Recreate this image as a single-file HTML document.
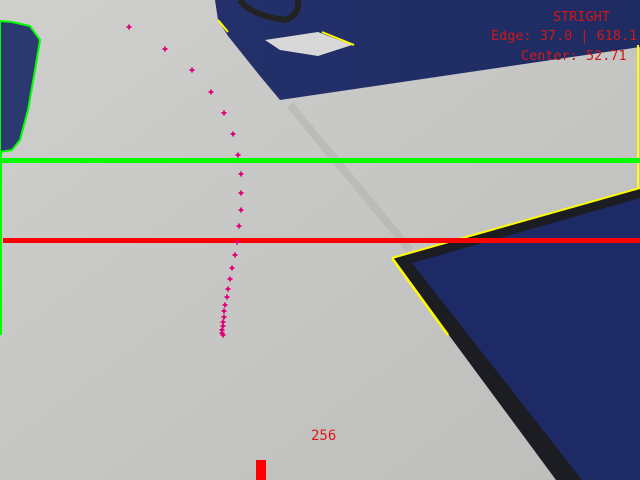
<!DOCTYPE html>
<html><head><meta charset="utf-8"><style>
html,body{margin:0;padding:0;width:640px;height:480px;overflow:hidden;background:#c4c4c2}
svg{display:block}
text{font-family:"DejaVu Sans Mono","Liberation Mono",monospace}
</style></head><body>
<svg width="640" height="480" viewBox="0 0 640 480">
<defs>
<linearGradient id="fl" x1="0" y1="0" x2="1" y2="1">
<stop offset="0" stop-color="#cfcfcd"/><stop offset="0.5" stop-color="#c6c6c4"/><stop offset="1" stop-color="#bdbdbb"/>
</linearGradient>
<linearGradient id="bm" x1="0" y1="0" x2="1" y2="0">
<stop offset="0" stop-color="#23306a"/><stop offset="1" stop-color="#1f2c62"/>
</linearGradient>
</defs>
<rect width="640" height="480" fill="url(#fl)"/>
<line x1="290" y1="105" x2="410" y2="250" stroke="#b4b4b2" stroke-width="8" opacity="0.6"/>
<polygon points="215,0 640,0 640,47 280,100 260,76 228,36 218,20" fill="url(#bm)"/>
<polygon points="265,40 318,32 352,45 318,56 280,50" fill="#d8d8d8"/>
<path d="M240,0 Q250,15 285,20 Q300,15 298,0" stroke="#222" stroke-width="6" fill="none"/>
<polyline points="218,20 228,32" stroke="#ffff00" stroke-width="2" fill="none"/>
<polyline points="322,32 354,45" stroke="#ffff00" stroke-width="2" fill="none"/>
<polygon points="392,258 640,188 640,480 556,480" fill="#1b1d22"/>
<polygon points="412,263 640,198 640,480 582,480" fill="#1d2a66"/>
<polyline points="392,258 640,188 638,188 638,45" stroke="#ffff00" stroke-width="2" fill="none"/>
<polyline points="392,258 448,335" stroke="#ffff00" stroke-width="2.5" fill="none"/>
<polygon points="0,21 12,22 30,26 40,40 35,70 28,110 20,140 12,150 0,152" fill="#2a3a70" stroke="#00ff00" stroke-width="2"/>
<rect x="0" y="158" width="640" height="5" fill="#00ff00"/>
<rect x="0" y="152" width="2" height="183" fill="#00ff00"/>
<rect x="3" y="238" width="637" height="5" fill="#ff0000"/>
<g id="pts"></g>
<rect x="256" y="460" width="10" height="20" fill="#ff0000"/>
<text x="311" y="440" font-size="14" fill="#e01818">256</text>
<text x="553" y="21" font-size="13.5" fill="#d01818">STRIGHT</text>
<text x="491" y="40" font-size="13.5" fill="#d01818">Edge: 37.0 | 618.1</text>
<text x="521" y="60" font-size="13.5" fill="#d01818">Center: 52.71</text>
</svg>
<script>
const px=[129,165,192,211,224,233,238,241,241,241,239,237,235,232,230,228,227,225,224,224,223,223,222,222,223];
const py=[27,49,70,92,113,134,155,174,193,210,226,242,255,268,279,289,297,305,311,317,322,326,330,333,335];
const g=document.getElementById('pts');
const NS='http://www.w3.org/2000/svg';
for(let i=0;i<px.length;i++){
  const p=document.createElementNS(NS,'path');
  
  
  p.setAttribute('d',`M${px[i]-2.5},${py[i]}h5M${px[i]},${py[i]-2.5}v5`);
  p.setAttribute('stroke','#e0007a');
  p.setAttribute('stroke-width','1.8');
  g.appendChild(p);
}
</script>
</body></html>
